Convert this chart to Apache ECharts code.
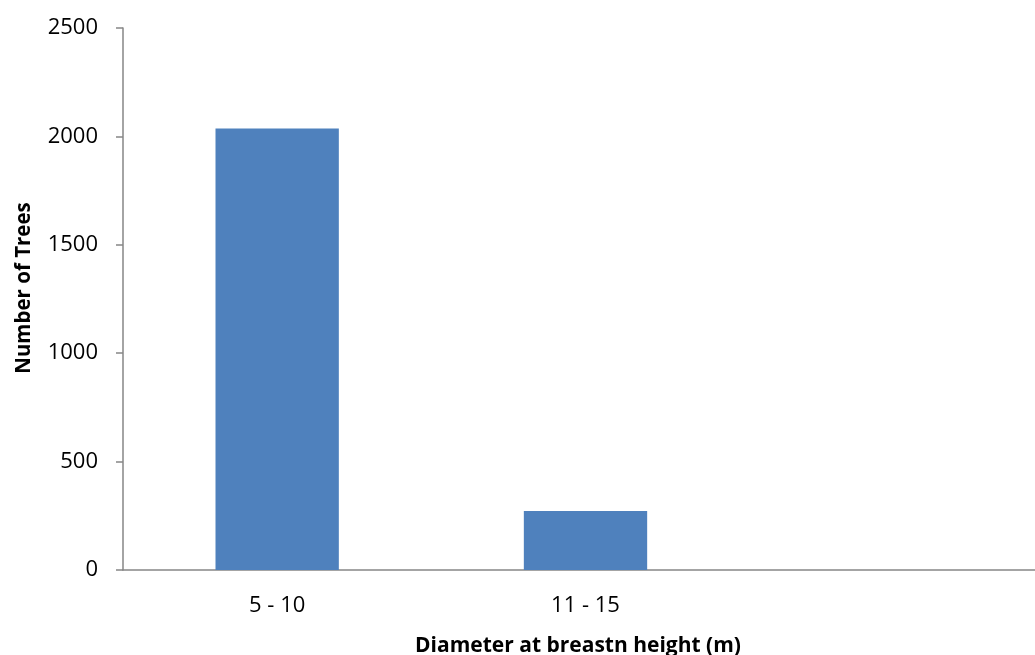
<!DOCTYPE html>
<html>
<head>
<meta charset="utf-8">
<script src="https://cdn.jsdelivr.net/npm/echarts@6/dist/echarts.min.js"></script>
<style>
  html, body { margin: 0; padding: 0; background: #fff; overflow: hidden; }
  #chart { width: 1035px; height: 655px; overflow: hidden; }
</style>
</head>
<body>
<div id="chart"></div>
<script>
// Tree counts per diameter class
const categories = ['5 - 10', '11 - 15', ''];
const treeCounts = [2037, 272, null];
const yTicks = { min: 0, max: 2500, interval: 500 };

const FONT = '"Open Sans", "Liberation Sans", sans-serif';
const AXIS_GRAY = '#868686';

const chart = echarts.init(document.getElementById('chart'), null, { renderer: 'canvas' });
chart.setOption({
  animation: false,
  backgroundColor: '#ffffff',
  // plot area runs past the right edge, so the third (empty) class is partly cut off
  grid: { left: 123, top: 28, width: 925, height: 542, containLabel: false, outerBoundsMode: 'none' },
  xAxis: {
    type: 'category',
    data: categories,
    axisLine: { lineStyle: { color: AXIS_GRAY, width: 1.5 } },
    axisTick: { show: false },
    axisLabel: { color: '#000', fontFamily: FONT, fontSize: 22, margin: 25 },
    name: 'Diameter at breastn height (m)',
    nameLocation: 'middle',
    nameGap: 66,
    nameTextStyle: { color: '#000', fontFamily: FONT, fontSize: 21, fontWeight: 'bold', padding: [0, 15, 0, 0] }
  },
  yAxis: {
    type: 'value',
    min: yTicks.min,
    max: yTicks.max,
    interval: yTicks.interval,
    splitLine: { show: false },
    axisLine: { show: true, lineStyle: { color: AXIS_GRAY, width: 1.5 } },
    axisTick: { show: true, length: 7, lineStyle: { color: AXIS_GRAY, width: 1.5 } },
    axisLabel: { color: '#000', fontFamily: FONT, fontSize: 22, margin: 25, formatter: v => String(v) },
    name: 'Number of Trees',
    nameLocation: 'middle',
    nameGap: 88,
    nameTextStyle: { color: '#000', fontFamily: FONT, fontSize: 20.5, fontWeight: 'bold', padding: [0, 0, 0, 22] }
  },
  series: [{
    type: 'bar',
    data: treeCounts,
    barWidth: '40%',
    itemStyle: { color: '#4F81BD' }
  }]
});
</script>
</body>
</html>
